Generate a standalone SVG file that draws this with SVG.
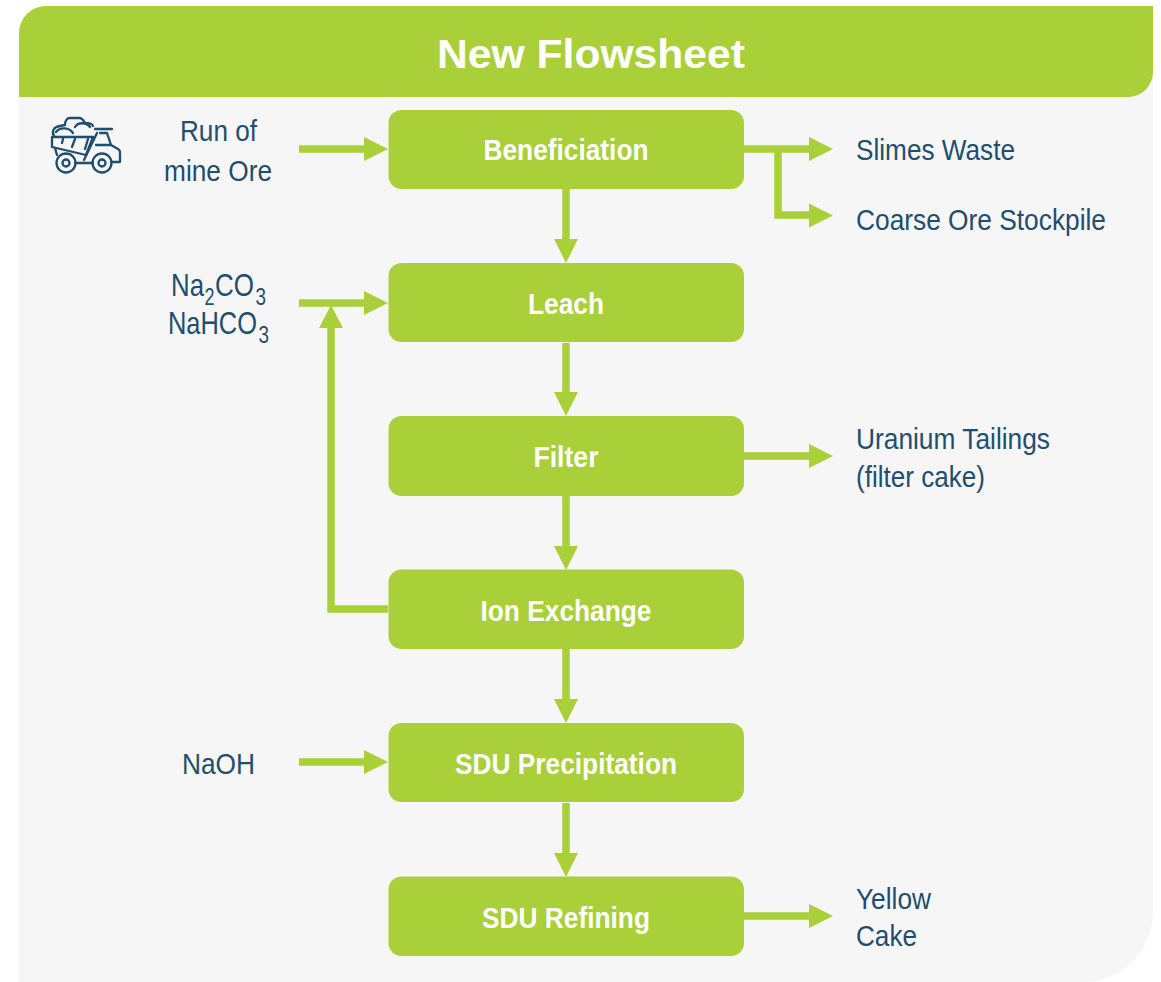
<svg xmlns="http://www.w3.org/2000/svg" width="1161" height="982" viewBox="0 0 1161 982">
<style>
text{font-family:"Liberation Sans",Arial,sans-serif}
.n{fill:#a9d039}
.nt{fill:#fff;font-weight:700;font-size:29px;text-anchor:middle}
.l{fill:#1f4e6e;font-size:30px}
.b{font-size:32px}
.s{font-size:23px}
.c{stroke:#a9d039;stroke-width:7.500;fill:none}
.h{fill:#a9d039}
.i{stroke:#1f4e6e;stroke-width:2.300;fill:none;stroke-linecap:round;stroke-linejoin:round}
</style>
<rect width="1161" height="982" fill="#fff"/>
<path id="panel" d="M19 60H1153V912A70 70 0 0 1 1083 982H19Z" fill="#f6f6f6"/>
<g id="header">
<path d="M19 97V33A27 27 0 0 1 46 6H1153V72A25 25 0 0 1 1128 97Z" fill="#a9d039"/>
<text x="591" y="68" fill="#fff" font-weight="700" font-size="41" text-anchor="middle" textLength="308" lengthAdjust="spacingAndGlyphs">New Flowsheet</text>
</g>
<g id="connectors">
<path class="c" d="M299 149H366M744 149H810M778 149V215H810M566 189V240M299 303H366M331 326V609H388M566 343V393M744 456H810M566 496V547M566 649V700M299 762H366M566 803V854M744 916H810"/>
<path class="h" d="M388 149l-24-12v24ZM833 149l-24-12v24ZM833 215.500l-24-12v24ZM566 263l-12-24h24ZM388 303l-24-12v24ZM331 305l-12 23h24ZM566 416l-12-24h24ZM833 456l-24-12v24ZM566 570l-12-24h24ZM566 723l-12-24h24ZM388 762l-24-12v24ZM566 877l-12-24h24ZM833 916l-24-12v24Z"/>
</g>
<g id="beneficiation"><rect class="n" x="388.500" y="110" width="355.500" height="79" rx="13"/><text class="nt" x="566" y="160" textLength="165" lengthAdjust="spacingAndGlyphs">Beneficiation</text></g>
<g id="leach"><rect class="n" x="388.500" y="263" width="355.500" height="79" rx="13"/><text class="nt" x="566" y="314" textLength="76" lengthAdjust="spacingAndGlyphs">Leach</text></g>
<g id="filter"><rect class="n" x="388.500" y="416" width="355.500" height="80" rx="13"/><text class="nt" x="566" y="467" textLength="65" lengthAdjust="spacingAndGlyphs">Filter</text></g>
<g id="ion-exchange"><rect class="n" x="388.500" y="569.500" width="355.500" height="79.500" rx="13"/><text class="nt" x="566" y="620.500" textLength="171" lengthAdjust="spacingAndGlyphs">Ion Exchange</text></g>
<g id="sdu-precipitation"><rect class="n" x="388.500" y="723" width="355.500" height="79" rx="13"/><text class="nt" x="566" y="774" textLength="222" lengthAdjust="spacingAndGlyphs">SDU Precipitation</text></g>
<g id="sdu-refining"><rect class="n" x="388.500" y="876.500" width="355.500" height="79.500" rx="13"/><text class="nt" x="566" y="927.500" textLength="168" lengthAdjust="spacingAndGlyphs">SDU Refining</text></g>
<g id="truck" class="i">
<path d="M52 137H93L86 155L52 147ZM63 139L62 143M75 139L72 147M88 139L85 149"/>
<path d="M54 136C51 131 54 127 60 126L65 125C65 121 67 118 70 118H79C82 118 84 121 85 123C89 123 92 124 93 126M56 132C60 127 69 127 73 133M75 127C78 122 86 122 90 127"/>
<path d="M95 129H112M97 133L84 160M100 133H107L111 145H96M111 145L118 149C120 150 120 151 120 153V162H111M75 163H93M55 148L57 155"/>
<circle cx="66" cy="163" r="9.500"/><circle cx="66" cy="163" r="3.500"/><circle cx="102" cy="163" r="9.500"/><circle cx="102" cy="163" r="3.500"/>
</g>
<g id="labels" class="l">
<text x="180" y="141" textLength="77" lengthAdjust="spacingAndGlyphs">Run of</text>
<text x="164" y="180.500" textLength="108" lengthAdjust="spacingAndGlyphs">mine Ore</text>
<text class="b" x="171" y="296" textLength="33" lengthAdjust="spacingAndGlyphs">Na</text><text class="s" x="204.500" y="305" textLength="10" lengthAdjust="spacingAndGlyphs">2</text><text class="b" x="215" y="296" textLength="39" lengthAdjust="spacingAndGlyphs">CO</text><text class="s" x="255.500" y="305" textLength="10.500" lengthAdjust="spacingAndGlyphs">3</text>
<text class="b" x="168" y="334" textLength="89" lengthAdjust="spacingAndGlyphs">NaHCO</text><text class="s" x="258.500" y="343" textLength="10.500" lengthAdjust="spacingAndGlyphs">3</text>
<text x="182" y="774" textLength="73" lengthAdjust="spacingAndGlyphs">NaOH</text>
<text x="856" y="160" textLength="159" lengthAdjust="spacingAndGlyphs">Slimes Waste</text>
<text x="856" y="229.500" textLength="250" lengthAdjust="spacingAndGlyphs">Coarse Ore Stockpile</text>
<text x="856" y="449" textLength="194" lengthAdjust="spacingAndGlyphs">Uranium Tailings</text>
<text x="856" y="487" textLength="129" lengthAdjust="spacingAndGlyphs">(filter cake)</text>
<text x="856" y="909" textLength="75" lengthAdjust="spacingAndGlyphs">Yellow</text>
<text x="856" y="946" textLength="61" lengthAdjust="spacingAndGlyphs">Cake</text>
</g>
</svg>
